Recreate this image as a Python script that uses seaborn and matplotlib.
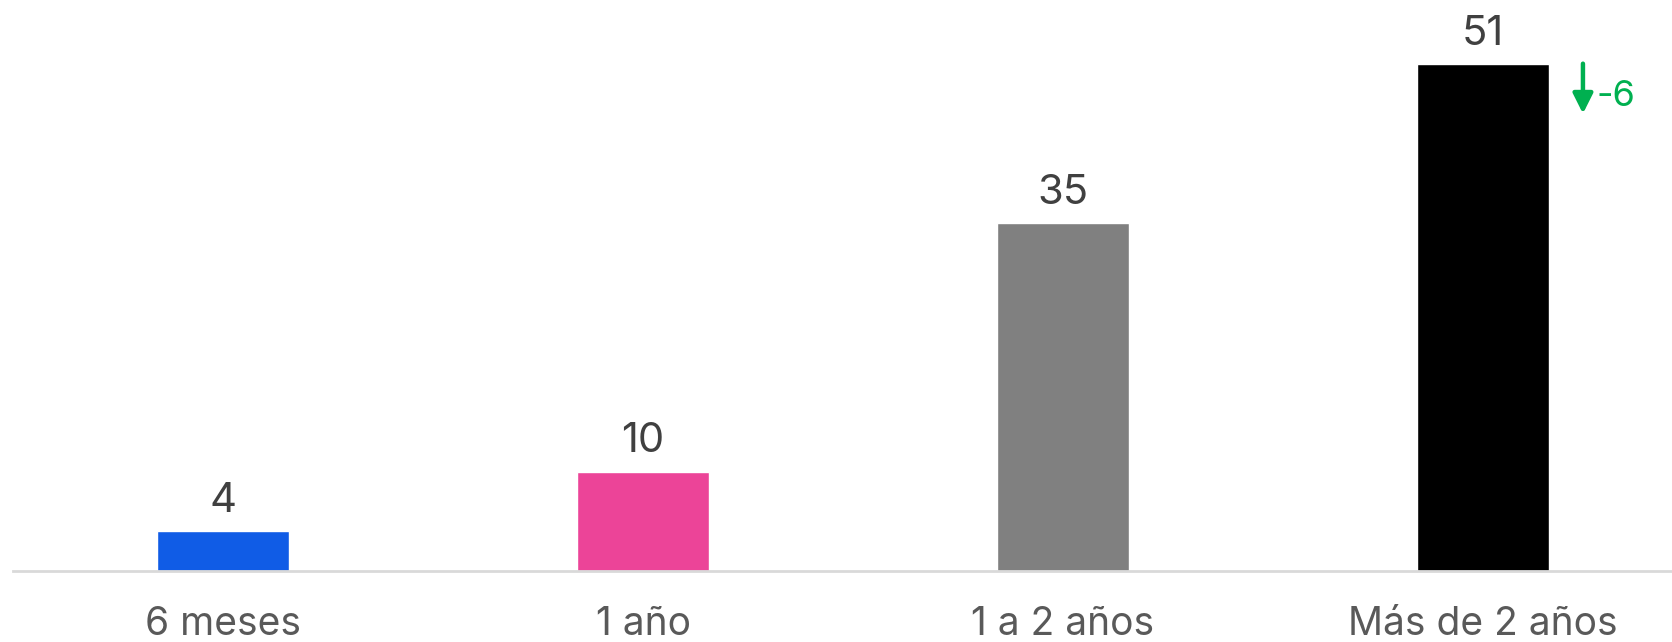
import matplotlib
matplotlib.use('Agg')
import matplotlib.pyplot as plt
import seaborn as sns
from matplotlib.transforms import offset_copy

categorias = ['6 meses', '1 año', '1 a 2 años', 'Más de 2 años']
valores = [4, 10, 35, 51]
colores = ['#105CE6', '#EC4498', '#808080', '#000000']
cambios = [None, None, None, -6]

sns.set_style('white')
plt.rcParams['font.family'] = ['Inter', 'DejaVu Sans']

fig = plt.figure(figsize=(16.72, 6.42), dpi=100)
ax = fig.add_axes([0.0078, 0.1106, 0.9922, 0.8894])

ancho = 0.314
sns.barplot(x=categorias, y=valores, hue=categorias, palette=colores,
            legend=False, width=ancho, saturation=1, ax=ax)

for cont in ax.containers:
    ax.bar_label(cont, fmt='%d', padding=8, fontsize=30, color='#404040')

ax.set_xlim(-0.5, 3.45)
ax.set_ylim(0, 57.4)
ax.set_xlabel('')
ax.set_ylabel('')
ax.set_yticks([])
ax.tick_params(axis='x', length=0, pad=25, labelsize=28, labelcolor='#595959')

for s in ['top', 'right', 'left']:
    ax.spines[s].set_visible(False)
ax.spines['bottom'].set_color('#D9D9D9')
ax.spines['bottom'].set_linewidth(2)

# flecha de cambio junto a la barra
verde = '#00B050'
for i, (v, c) in enumerate(zip(valores, cambios)):
    if c is None:
        continue
    xr = i + ancho / 2
    tr_top = offset_copy(ax.transData, fig=fig, x=34, y=0, units='dots')
    tr_bot = offset_copy(ax.transData, fig=fig, x=34, y=-50, units='dots')
    ax.annotate('', xy=(xr, v), xycoords=tr_bot, xytext=(xr, v), textcoords=tr_top,
                arrowprops=dict(arrowstyle='-|>,head_length=0.6,head_width=0.3',
                                lw=3.2, color=verde, mutation_scale=20,
                                shrinkA=0, shrinkB=0))
    ax.annotate(f'{c}', xy=(xr, v), xytext=(48, -33), textcoords='offset pixels',
                ha='left', va='center', fontsize=26, color=verde)

fig.savefig('out.png', dpi=100)
